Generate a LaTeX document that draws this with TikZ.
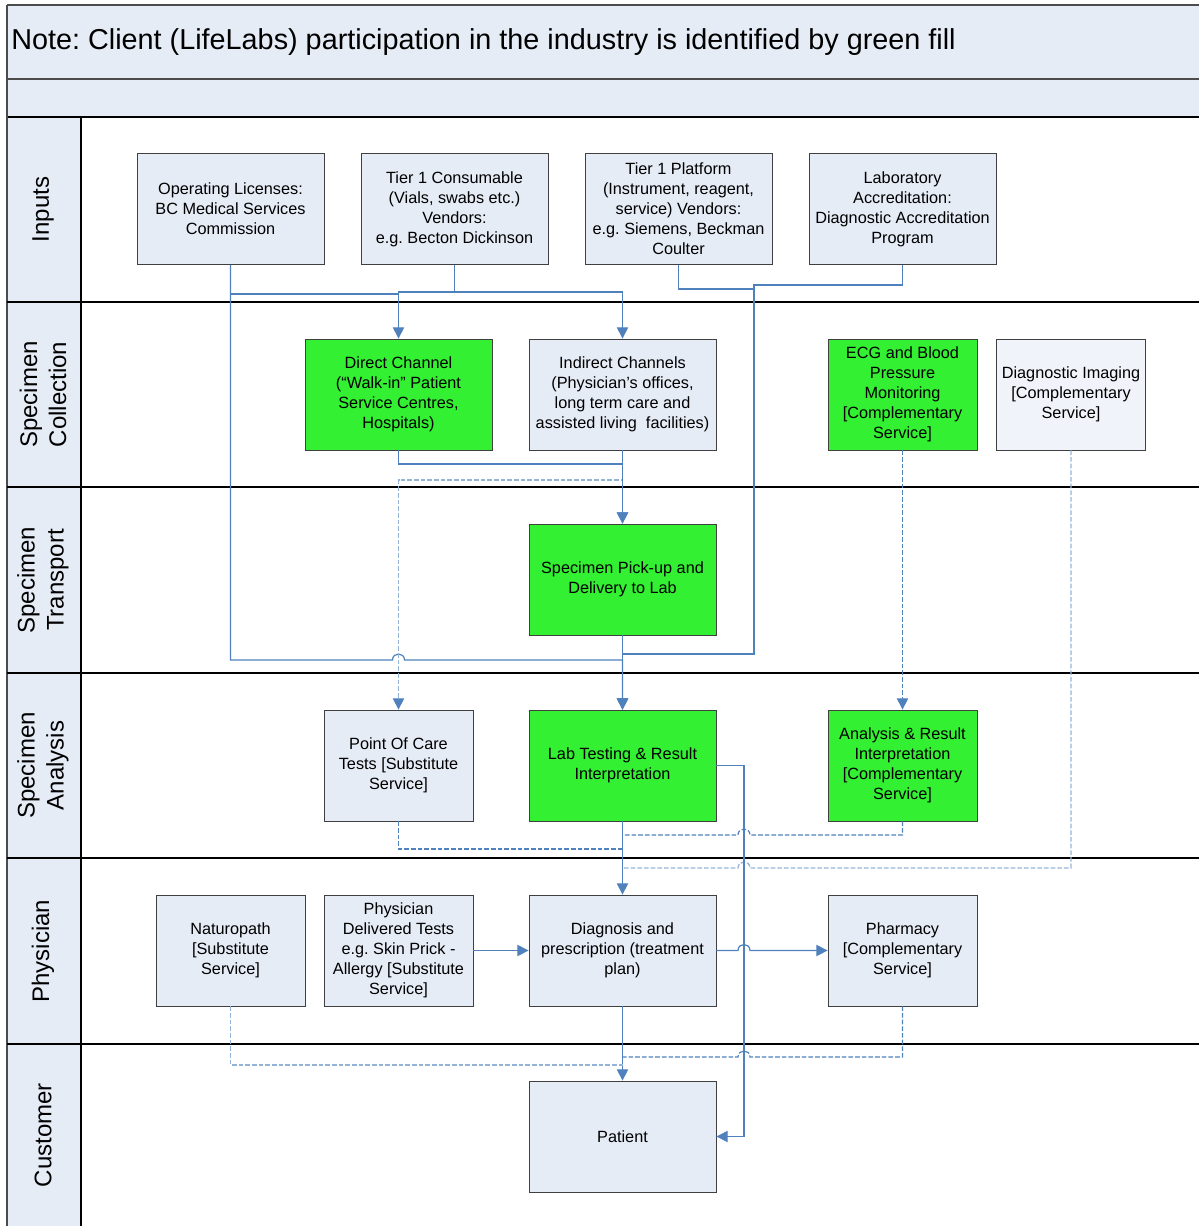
\documentclass[tikz,border=0pt]{standalone}
\usepackage{fontspec}
\setmainfont{Liberation Sans}
\usetikzlibrary{arrows.meta}
\definecolor{boxblue}{RGB}{230,236,246}
\definecolor{imgfill}{RGB}{240,243,250}
\definecolor{lifegreen}{RGB}{51,240,51}
\definecolor{lineblue}{RGB}{79,129,189}
\definecolor{lightblue}{RGB}{149,179,215}
\frenchspacing
\begin{document}
\begin{tikzpicture}[x=0.75pt,y=-0.75pt,
  box/.style={draw=black!75, fill=boxblue, line width=0.6pt, align=center, inner sep=0pt,
    font=\fontsize{12.2}{15}\selectfont, minimum width=140.25pt, minimum height=83.25pt},
  nbox/.style={box, minimum width=111.75pt},
  green/.style={fill=lifegreen},
  lane/.style={draw=black, line width=1pt},
  lanelabel/.style={rotate=90, align=center, font=\fontsize{18}{21.75}\selectfont},
  conn/.style={draw=lineblue, line width=0.9pt},
  darkdash/.style={draw=lineblue, line width=0.9pt, dash pattern=on 3.5pt off 1.5pt},
  lightdash/.style={draw=lightblue, line width=1pt, dash pattern=on 3.5pt off 1.5pt},
  arr/.style={-{Triangle[length=8.5pt,width=8.5pt,color=lineblue]}}
]
\useasboundingbox (0,0) rectangle (1199,1226);
% bands
\fill[boxblue] (7,5) rectangle (1199,117);
\fill[boxblue] (7,117) rectangle (81,1226);
\draw[lane, draw=black!70] (7,5) -- (1199,5);
\draw[lane, draw=black!70] (7,79) -- (1199,79);
\draw[lane] (7,117) -- (1199,117);
\draw[lane, draw=black!70] (7,5) -- (7,1226);
\draw[lane] (81,117) -- (81,1226);
\foreach \yy in {302,487,673,858,1044} \draw[lane] (7,\yy) -- (1199,\yy);
\node[anchor=west, inner sep=0pt, font=\fontsize{21.6}{26}\selectfont] (title) at (11,42)
  {Note: Client (LifeLabs) participation in the industry is identified by green fill};
% lane labels
\node[lanelabel] (L1) at (43,209.5) {Inputs};
\node[lanelabel] (L2) at (43,394.5) {Specimen\\Collection};
\node[lanelabel] (L3) at (43,580) {Specimen\\Transport};
\node[lanelabel] (L4) at (43,765.5) {Specimen\\Analysis};
\node[lanelabel] (L5) at (43,951) {Physician};
\node[lanelabel] (L6) at (43,1135) {Customer};
% boxes
\node[box] (opl) at (230.5,209) {Operating Licenses:\\BC Medical Services\\Commission};
\node[box] (cons) at (454.5,209) {Tier 1 Consumable\\(Vials, swabs etc.)\\Vendors:\\e.g. Becton Dickinson};
\node[box] (plat) at (678.5,209) {Tier 1 Platform\\(Instrument, reagent,\\service) Vendors:\\e.g. Siemens, Beckman\\Coulter};
\node[box] (accr) at (902.5,209) {Laboratory\\Accreditation:\\Diagnostic Accreditation\\Program};
\node[box,green] (direct) at (398.5,394.5) {Direct Channel\\(“Walk-in” Patient\\Service Centres,\\Hospitals)};
\node[box] (indirect) at (622.5,394.5) {Indirect Channels\\(Physician’s offices,\\long term care and\\assisted living\ \ facilities)};
\node[nbox,green] (ecg) at (902.5,394.5) {ECG and Blood\\Pressure\\Monitoring\\{[}Complementary\\Service]};
\node[nbox,fill=imgfill] (imaging) at (1071,394.5) {Diagnostic Imaging\\{[}Complementary\\Service]};
\node[box,green] (pickup) at (622.5,579.5) {Specimen Pick-up and\\Delivery to Lab};
\node[nbox] (poc) at (398.5,765.5) {Point Of Care\\Tests [Substitute\\Service]};
\node[box,green] (lab) at (622.5,765.5) {Lab Testing \& Result\\Interpretation};
\node[nbox,green] (anres) at (902.5,765.5) {Analysis \& Result\\Interpretation\\{[}Complementary\\Service]};
\node[nbox] (natur) at (230.5,950.5) {Naturopath\\{[}Substitute\\Service]};
\node[nbox] (phys) at (398.5,950.5) {Physician\\Delivered Tests\\e.g. Skin Prick -\\Allergy [Substitute\\Service]};
\node[box] (diag) at (622.5,950.5) {Diagnosis and\\prescription (treatment\\plan)};
\node[nbox] (pharm) at (902.5,950.5) {Pharmacy\\{[}Complementary\\Service]};
\node[box] (patient) at (622.5,1136.5) {Patient};
% connectors: inputs
\draw[conn,arr] (cons.south) |- (398.5,292) -- (direct.north);
\draw[conn,arr] (cons.south) |- (622.5,292) -- (indirect.north);
\draw[conn] (opl.south) |- (398.5,294);
\draw[conn,arr] (opl.south) -- (230.5,660) -- (392.5,660) .. controls (392.5,652) and (404.5,652) .. (404.5,660) -- (622.5,660) -- (lab.north);
\draw[conn] (plat.south) |- (754,289);
\draw[conn,arr] (accr.south) |- (754,285) -- (754,654) -- (622.5,654) -- (lab.north);
% collection -> transport / analysis
\draw[lightdash,arr] (indirect.south) |- (398.5,480) -- (poc.north);
\draw[conn,arr] (direct.south) |- (622.5,464) -- (pickup.north);
\draw[conn,arr] (indirect.south) -- (pickup.north);
\draw[conn,arr] (pickup.south) -- (lab.north);
\draw[darkdash,arr] (ecg.south) -- (anres.north);
% analysis -> physician
\draw[conn,arr] (lab.south) -- (diag.north);
\draw[darkdash] (poc.south) |- (622.5,849);
\draw[darkdash] (anres.south) -- (902.5,835) -- (750,835) .. controls (750,827) and (738,827) .. (738,835) -- (622.5,835);
\draw[lightdash] (imaging.south) -- (1071,868) -- (750,868) .. controls (750,860) and (738,860) .. (738,868) -- (622.5,868);
\draw[conn,arr] (lab.east) -- (744,765.5) -- (744,1136.5) -- (patient.east);
% physician
\draw[conn,arr] (phys.east) -- (diag.west);
\draw[conn,arr] (diag.east) -- (738,950.5) .. controls (738,942.5) and (750,942.5) .. (750,950.5) -- (pharm.west);
\draw[conn,arr] (diag.south) -- (patient.north);
\draw[lightdash] (natur.south) |- (622.5,1065);
\draw[darkdash] (pharm.south) -- (902.5,1057) -- (750,1057) .. controls (750,1049) and (738,1049) .. (738,1057) -- (622.5,1057);
\end{tikzpicture}
\end{document}
